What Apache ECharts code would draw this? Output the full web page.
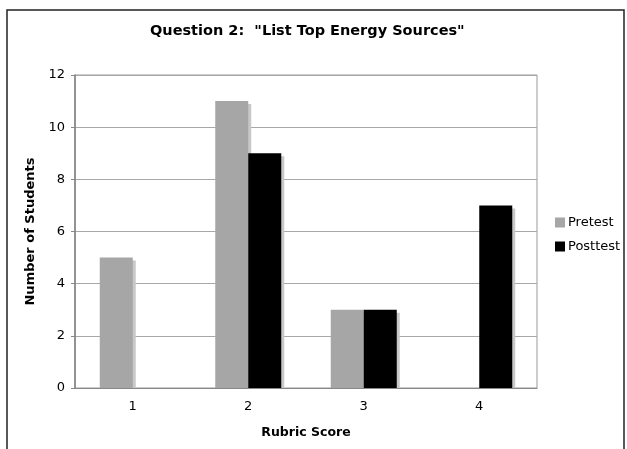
<!DOCTYPE html>
<html><head><meta charset="utf-8">
<script src="https://cdn.jsdelivr.net/npm/echarts@6/dist/echarts.min.js"></script>
<style>html,body{margin:0;padding:0;background:#fff}#c{width:627px;height:449px}</style>
</head><body><div id="c"></div>
<script>
const categories = ['1', '2', '3', '4'];
const pretest = [5, 11, 3, 0];
const posttest = [0, 9, 3, 7];
const seriesNames = ['Pretest', 'Posttest'];

const font = 'DejaVu Sans, Verdana, sans-serif';
const chart = echarts.init(document.getElementById('c'), null, {renderer: 'canvas'});
const shadow = {shadowColor: '#c8c8c8', shadowOffsetX: 3, shadowOffsetY: 3, shadowBlur: 0};
chart.setOption({
  animation: false,
  backgroundColor: '#fff',
  graphic: [
    {type: 'rect', z: 100, shape: {x: 7, y: 10, width: 617, height: 460}, style: {fill: 'none', stroke: '#222', lineWidth: 1.5}, silent: true},
    {type: 'rect', z: 5, shape: {x: 76, y: 389, width: 466, height: 5}, style: {fill: '#fff'}, silent: true}
  ],
  title: {text: 'Question 2:  "List Top Energy Sources"', left: 145, top: 19,
    textStyle: {fontFamily: font, fontSize: 14.5, fontWeight: 'bold', color: '#000'}},
  legend: {orient: 'vertical', left: 550, top: 211, itemWidth: 10, itemHeight: 10, itemGap: 11,
    icon: 'rect', textStyle: {fontFamily: font, fontSize: 13, color: '#000', padding: [0,0,0,-2]},
    data: seriesNames},
  grid: {left: 75, right: 90, top: 75, bottom: 61, show: true, borderColor: '#999', borderWidth: 1},
  xAxis: {type: 'category', data: categories, name: 'Rubric Score', nameLocation: 'middle', nameGap: 38, z: 10,
    nameTextStyle: {fontFamily: font, fontSize: 12.5, fontWeight: 'bold', color: '#000'},
    axisLine: {lineStyle: {color: '#888'}}, axisTick: {length: 5, lineStyle: {color: '#888'}},
    axisLabel: {fontFamily: font, fontSize: 13, color: '#000', margin: 12}},
  yAxis: {type: 'value', min: 0, max: 12, interval: 2, name: 'Number of Students', nameLocation: 'middle', nameGap: 37,
    nameTextStyle: {fontFamily: font, fontSize: 13, fontWeight: 'bold', color: '#000'},
    axisLine: {show: true, lineStyle: {color: '#808080', width: 1.5}}, axisTick: {show: true, length: 4, lineStyle: {color: '#888'}},
    splitLine: {lineStyle: {color: '#a8a8a8'}},
    axisLabel: {fontFamily: font, fontSize: 13, color: '#000', margin: 10}},
  series: [
    {name: seriesNames[0], type: 'bar', data: pretest, barWidth: 33, barGap: '0%',
      itemStyle: Object.assign({color: '#a6a6a6'}, shadow)},
    {name: seriesNames[1], type: 'bar', data: posttest, barWidth: 33,
      itemStyle: Object.assign({color: '#000'}, shadow)}
  ]
});
</script></body></html>
